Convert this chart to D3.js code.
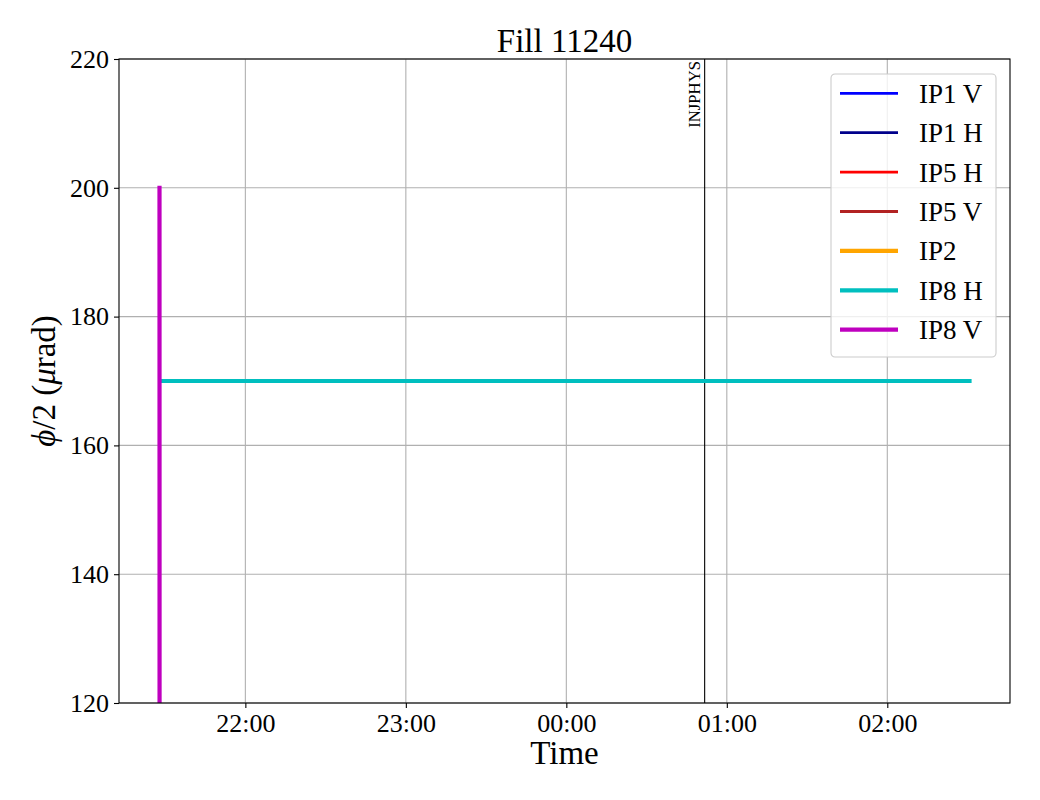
<!DOCTYPE html>
<meta charset="utf-8">
<style>
  body { margin: 0; background: #fff; }
  svg text { font-family: "Liberation Serif", "Times New Roman", serif !important; fill: #000; }
  .grid line { stroke: #b0b0b0; stroke-width: 1.1px; }
</style>
<svg width="1040" height="800"></svg>
<script src="https://d3js.org/d3.v7.min.js"></script>
<script>
// ---- data ----
const seriesNames = ["IP1 V", "IP1 H", "IP5 H", "IP5 V", "IP2", "IP8 H", "IP8 V"];
const seriesColors = ["#0000ff", "#00008b", "#ff0000", "#b22222", "#ffa500", "#00bfbf", "#bf00bf"];
const seriesWidths = [2.8, 2.8, 2.8, 2.8, 4.2, 4.2, 4.2];

const ip8hTimes = ["2025-10-20T21:28:40Z", "2025-10-21T02:30:44Z"];
const ip8hValues = [170, 170];

const ip8vTimes = ["2025-10-20T21:27:54Z", "2025-10-20T21:27:58Z"];
const ip8vValues = [200, 0];

const modeTimes = ["2025-10-21T00:51:43Z"];
const modeNames = ["INJPHYS"];

const yTicks = [120, 140, 160, 180, 200, 220];

// ---- layout ----
const svg = d3.select("svg");
const margin = {left: 119, right: 1010, top: 59, bottom: 703};
const FONT = "'Liberation Serif', 'Times New Roman', serif";

const parse = d3.isoParse;
const series = [
  {name: "IP8 H", color: seriesColors[5], width: seriesWidths[5],
   pts: ip8hTimes.map((t, i) => ({t: parse(t), v: ip8hValues[i]}))},
  {name: "IP8 V", color: seriesColors[6], width: seriesWidths[6],
   pts: ip8vTimes.map((t, i) => ({t: parse(t), v: ip8vValues[i]}))}
];

// matplotlib style 5% padding on the time axis
const allT = series.flatMap(s => s.pts.map(p => +p.t));
const t0 = d3.min(allT), t1 = d3.max(allT), pad = (t1 - t0) * 0.05;

const x = d3.scaleUtc()
    .domain([new Date(t0 - pad), new Date(t1 + pad)])
    .range([margin.left, margin.right]);

const y = d3.scaleLinear()
    .domain([120, 220])
    .range([margin.bottom, margin.top]);

const xTicks = x.ticks(d3.utcHour.every(1));

// grid
const grid = svg.append("g").attr("class", "grid");
grid.selectAll("line.gx").data(xTicks).enter().append("line")
    .attr("x1", d => x(d)).attr("x2", d => x(d))
    .attr("y1", margin.top).attr("y2", margin.bottom);
grid.selectAll("line.gy").data(yTicks).enter().append("line")
    .attr("x1", margin.left).attr("x2", margin.right)
    .attr("y1", d => y(d)).attr("y2", d => y(d));

// clip for data
svg.append("clipPath").attr("id", "clip").append("rect")
    .attr("x", margin.left).attr("y", margin.top)
    .attr("width", margin.right - margin.left)
    .attr("height", margin.bottom - margin.top);

// mode line
modeTimes.forEach((t, i) => {
  const xm = x(parse(t));
  svg.append("line")
      .attr("x1", xm).attr("x2", xm)
      .attr("y1", margin.top).attr("y2", margin.bottom)
      .attr("stroke", "#000").attr("stroke-width", 1.1);
  svg.append("text")
      .attr("transform", `translate(${xm - 5},${margin.top + 2}) rotate(-90)`)
      .attr("text-anchor", "end")
      .style("font-family", FONT)
      .style("font-size", "16.7px")
      .text(modeNames[i]);
});

// data lines
const line = d3.line().x(d => x(d.t)).y(d => y(d.v));
svg.append("g").attr("clip-path", "url(#clip)")
  .selectAll("path").data(series).enter().append("path")
    .attr("d", d => line(d.pts))
    .attr("fill", "none")
    .attr("stroke", d => d.color)
    .attr("stroke-width", d => d.width)
    .attr("stroke-linecap", "square");

// axes
const xAxis = svg.append("g")
    .attr("transform", `translate(0,${margin.bottom})`)
    .call(d3.axisBottom(x).tickValues(xTicks).tickFormat(d3.utcFormat("%H:%M"))
      .tickSize(5).tickPadding(5));
const yAxis = svg.append("g")
    .attr("transform", `translate(${margin.left},0)`)
    .call(d3.axisLeft(y).tickValues(yTicks).tickSize(5).tickPadding(5));
[xAxis, yAxis].forEach(a => {
  a.attr("font-family", null).attr("font-size", null);
  a.select(".domain").remove();
  a.selectAll("line").attr("stroke", "#000").attr("stroke-width", 1.1);
  a.selectAll("text").style("font-family", FONT).style("font-size", "26px");
});
xAxis.selectAll("text").attr("dy", "0.74em");

// spines
svg.append("rect")
    .attr("x", margin.left).attr("y", margin.top)
    .attr("width", margin.right - margin.left)
    .attr("height", margin.bottom - margin.top)
    .attr("fill", "none").attr("stroke", "#000").attr("stroke-width", 1.1);

// title & labels
const big = sel => sel.style("font-family", FONT).style("font-size", "33px");
svg.append("text").attr("x", (margin.left + margin.right) / 2).attr("y", 52)
    .attr("text-anchor", "middle").call(big).text("Fill 11240");
svg.append("text").attr("x", (margin.left + margin.right) / 2).attr("y", 764)
    .attr("text-anchor", "middle").call(big).text("Time");
const yl = svg.append("text")
    .attr("transform", `translate(55,${(margin.top + margin.bottom) / 2}) rotate(-90)`)
    .attr("text-anchor", "middle").call(big);
yl.append("tspan").style("font-style", "italic").text("ϕ");
yl.append("tspan").text("/2 (");
yl.append("tspan").style("font-style", "italic").text("μ");
yl.append("tspan").text("rad)");

// legend
const lg = svg.append("g").attr("transform", "translate(831,74)");
lg.append("rect").attr("width", 165).attr("height", 283).attr("rx", 4)
    .attr("fill", "#fff").attr("fill-opacity", 0.8)
    .attr("stroke", "#cccccc").attr("stroke-width", 1.1);
const items = lg.selectAll("g.item").data(seriesNames).enter().append("g")
    .attr("transform", (d, i) => `translate(0,${19.3 + i * 39.4})`);
items.append("line").attr("x1", 9).attr("x2", 67)
    .attr("stroke", (d, i) => seriesColors[i])
    .attr("stroke-width", (d, i) => seriesWidths[i]);
items.append("text").attr("x", 88).attr("dy", "0.35em")
    .style("font-family", FONT)
    .style("font-size", "27px").text(d => d);
</script>
